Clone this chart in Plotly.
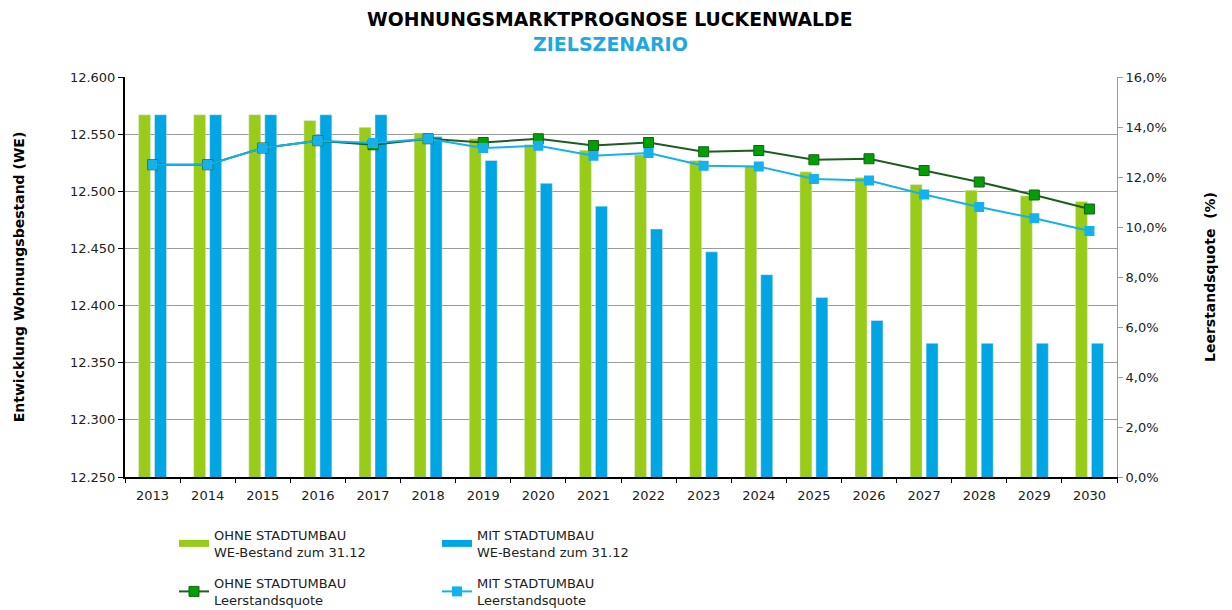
import plotly.graph_objects as go

years = [str(y) for y in range(2013, 2031)]
we_ohne = [12567, 12567, 12567, 12562, 12556, 12551, 12546, 12541, 12536,
           12532, 12527, 12522, 12517, 12512, 12506, 12501, 12496, 12491]
we_mit = [12567, 12567, 12567, 12567, 12567, 12548, 12527, 12507, 12487,
          12467, 12447, 12427, 12407, 12387, 12367, 12367, 12367, 12367]
lq_ohne = [12.49, 12.49, 13.16, 13.45, 13.29, 13.53, 13.38, 13.53, 13.26,
           13.38, 13.01, 13.06, 12.69, 12.73, 12.26, 11.80, 11.28, 10.72]
lq_mit = [12.49, 12.49, 13.16, 13.45, 13.36, 13.53, 13.16, 13.25, 12.85,
          12.96, 12.45, 12.42, 11.92, 11.86, 11.30, 10.80, 10.35, 9.84]

name_bar_ohne = "OHNE STADTUMBAU<br>WE-Bestand zum 31.12"
name_bar_mit = "MIT STADTUMBAU<br>WE-Bestand zum 31.12"
name_line_ohne = "OHNE STADTUMBAU<br>Leerstandsquote"
name_line_mit = "MIT STADTUMBAU<br>Leerstandsquote"

GREEN_BAR = "#99CC19"
BLUE_BAR = "#00A5E3"
GREEN_LINE = "#1B5E20"
GREEN_MARK = "#00A000"
BLUE_LINE = "#14B1EC"

FONT = "DejaVu Sans"

# page body has an 8px margin; work in reference-pixel coordinates and shift
OFF = 8
W, H = 1232 - OFF, 610 - OFF
L, R, T, B = 125 - OFF, 1117 - OFF, 77 - OFF, 477 - OFF

fig = go.Figure()
fig.add_trace(go.Bar(x=years, y=we_ohne, marker_color=GREEN_BAR, name=name_bar_ohne,
                     showlegend=False))
fig.add_trace(go.Bar(x=years, y=we_mit, marker_color=BLUE_BAR, name=name_bar_mit,
                     showlegend=False))
fig.add_trace(go.Scatter(x=years, y=lq_ohne, yaxis="y2", mode="lines+markers",
                         line=dict(color=GREEN_LINE, width=2),
                         marker=dict(symbol="square", size=10, color=GREEN_MARK,
                                     line=dict(color=GREEN_LINE, width=1)),
                         name=name_line_ohne, legend="legend2"))
fig.add_trace(go.Scatter(x=years, y=lq_mit, yaxis="y2", mode="lines+markers",
                         line=dict(color=BLUE_LINE, width=2),
                         marker=dict(symbol="square", size=10, color=BLUE_LINE),
                         name=name_line_mit, legend="legend2"))
# legend entries for the bars (flat wide swatches)
fig.add_trace(go.Scatter(x=[None], y=[None], mode="lines",
                         line=dict(color=GREEN_BAR, width=7), name=name_bar_ohne,
                         legend="legend"))
fig.add_trace(go.Scatter(x=[None], y=[None], mode="lines",
                         line=dict(color=BLUE_BAR, width=7), name=name_bar_mit,
                         legend="legend"))

legend_common = dict(orientation="h", entrywidth=218, entrywidthmode="pixels",
                     font=dict(family=FONT, size=13, color="#222"),
                     bgcolor="rgba(0,0,0,0)", itemwidth=30, tracegroupgap=0,
                     xanchor="left", yanchor="top")


def px_x(x):
    """reference pixel x -> paper fraction"""
    return (x - OFF - L) / (R - L)


def px_y(y):
    """reference pixel y -> paper fraction"""
    return (B - (y - OFF)) / (B - T)


fig.update_layout(
    width=W, height=H,
    margin=dict(l=L, r=W - R, t=T, b=H - B, autoexpand=False),
    paper_bgcolor="white", plot_bgcolor="white",
    separators=",.",
    barmode="group", bargap=0.42, bargroupgap=0.25,
    font=dict(family=FONT, size=13, color="#222"),
    xaxis=dict(type="category", range=[-0.5, len(years) - 0.5],
               showline=True, linecolor="black", linewidth=2,
               ticks="outside", tickson="boundaries", ticklen=4, tickcolor="black",
               tickfont=dict(size=13, color="#222"), showgrid=False,
               ticklabelstandoff=5, automargin=False),
    yaxis=dict(range=[12250, 12600], dtick=50, tickformat=",d",
               showline=True, linecolor="black", linewidth=2,
               ticks="outside", ticklen=5, tickcolor="black",
               showgrid=True, gridcolor="#9A9A9A", gridwidth=1,
               tickfont=dict(size=13, color="#222"), automargin=False,
               title=dict(text="<b>Entwicklung Wohnungsbestand (WE)</b>",
                          font=dict(size=14, color="black"), standoff=42),
               zeroline=False),
    yaxis2=dict(range=[0, 16], dtick=2, tickformat=".1f", ticksuffix="%",
                overlaying="y", side="right", showline=True, linecolor="#9A9A9A",
                linewidth=1, ticks="outside", ticklen=5, tickcolor="#9A9A9A",
                showgrid=False, zeroline=False, automargin=False,
                tickfont=dict(size=13, color="#222"),
                title=dict(text="<b>Leerstandsquote  (%)</b>",
                           font=dict(size=14, color="black"), standoff=39)),
    legend=dict(x=px_x(174), y=px_y(520), **legend_common),
    legend2=dict(x=px_x(174), y=px_y(568), **legend_common),
    annotations=[
        dict(text="<b>WOHNUNGSMARKTPROGNOSE LUCKENWALDE</b>", x=px_x(610), y=px_y(20),
             xref="paper", yref="paper", showarrow=False, yanchor="middle",
             font=dict(family=FONT, size=18.8, color="black")),
        dict(text="<b>ZIELSZENARIO</b>", x=px_x(610), y=px_y(44),
             xref="paper", yref="paper", showarrow=False, yanchor="middle",
             font=dict(family=FONT, size=19, color="#1FA8E0")),
    ],
)

fig.write_html("out.html")
